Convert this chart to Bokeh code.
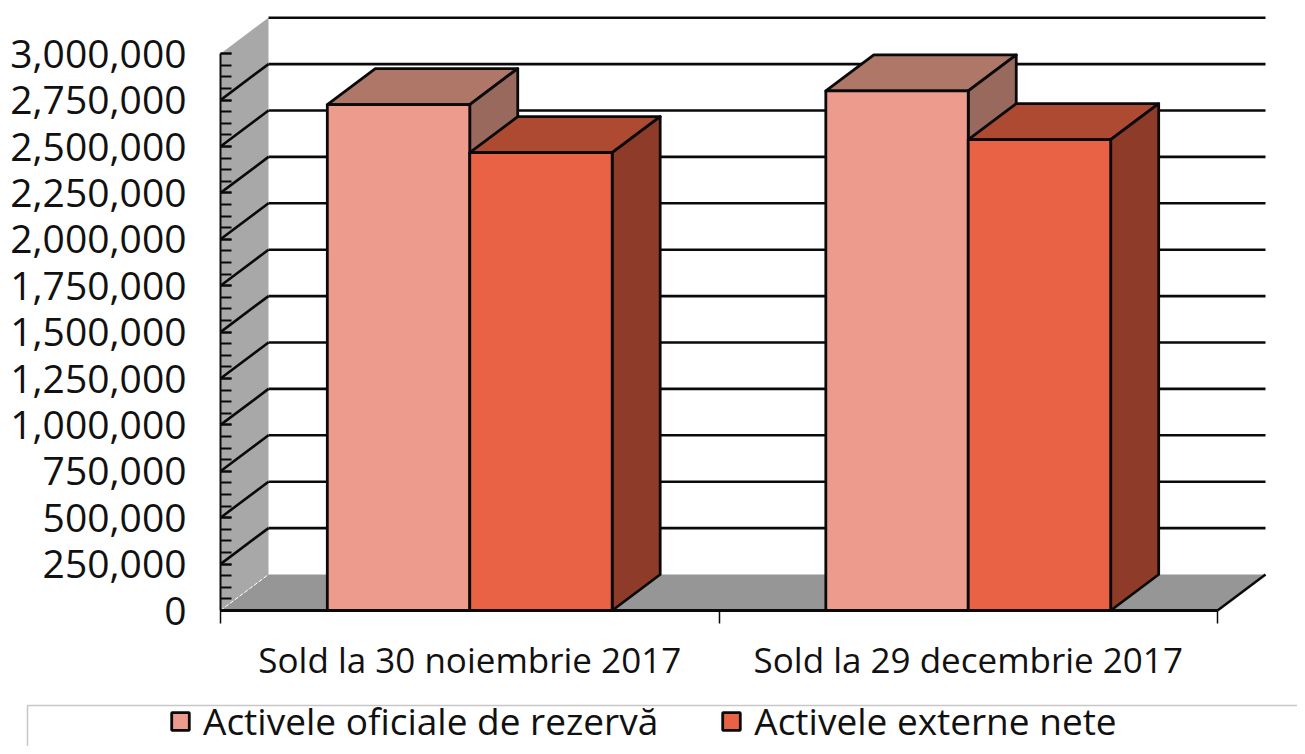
from bokeh.plotting import figure
from bokeh.models import (Range1d, LinearAxis, FixedTicker, NumeralTickFormatter,
                          Legend, LegendItem, BoxAnnotation)
from bokeh.embed import file_html
from bokeh.resources import INLINE

categories = ["Sold la 30 noiembrie 2017", "Sold la 29 decembrie 2017"]
series_names = ["Activele oficiale de rezervă", "Activele externe nete"]
activele_oficiale = [2726000, 2800000]
activele_externe = [2467000, 2537000]
y_ticks = list(range(0, 3000001, 250000))

FONT = "Open Sans"
FRONT = ["#EC9B8D", "#E96245"]
TOP = ["#AE7768", "#AE4A32"]
SIDE = ["#98695C", "#8E3C29"]
WALL = "#A8A8A8"
FLOOR = "#969696"
INK = "#0A0A0A"

PX_X = 498.5          # pixels per category
PX_Y = 46.4 / 250000  # pixels per unit of value
DX = 48 / PX_X
DY = 36 / PX_Y
BAR = 1 / 3.5
W, H = 1297, 746
ymax_cat = 2
YMAX = y_ticks[-1]

p = figure(width=W, height=H, output_backend="svg", toolbar_location=None,
           x_range=Range1d(-220 / PX_X, (W - 220) / PX_X),
           y_range=Range1d(-(H - 610) / PX_Y, 610 / PX_Y),
           min_border=0, outline_line_color=None, x_axis_type=None, y_axis_type=None)
p.grid.visible = False
p.background_fill_color = "white"

# walls and floor
p.patch([0, DX, DX, 0], [0, DY, YMAX + DY, YMAX], fill_color=WALL, line_color=None)
p.patch([0, DX, ymax_cat + DX, ymax_cat], [0, DY, DY, 0], fill_color=FLOOR, line_color=None)
p.line([0, DX], [0, DY], line_color="white", line_width=1, line_dash="4 2")

# gridlines: back wall + side wall
for v in y_ticks[1:]:
    xs = [DX, ymax_cat + DX]
    p.line(xs, [v + DY, v + DY], line_color=INK, line_width=2.6)
    if v < YMAX:
        p.line([0, DX], [v, v + DY], line_color=INK, line_width=2.6)
p.line([ymax_cat, ymax_cat + DX], [0, DY], line_color=INK, line_width=2.6)
p.line([0, ymax_cat], [0, 0], line_color=INK, line_width=3)

# bars
front_renderers = []
for s, vals in enumerate([activele_oficiale, activele_externe]):
    for c, v in enumerate(vals):
        l = c + 0.5 - BAR + s * BAR
        r = l + BAR
        p.patch([l, r, r + DX, l + DX], [v, v, v + DY, v + DY], fill_color=TOP[s],
                line_color=INK, line_width=2.8, line_join="round")
        p.patch([r, r + DX, r + DX, r], [0, DY, v + DY, v], fill_color=SIDE[s],
                line_color=INK, line_width=2.8, line_join="round")
    lefts = [c + 0.5 - BAR + s * BAR for c in range(len(vals))]
    rights = [x + BAR for x in lefts]
    q = p.quad(left=lefts, right=rights, bottom=0, top=vals, fill_color=FRONT[s],
               line_color=INK, line_width=2.8)
    front_renderers.append(q)

# axes
yax = LinearAxis(fixed_location=0, bounds=(0, YMAX),
                 ticker=FixedTicker(ticks=y_ticks, minor_ticks=list(range(0, 3000001, 62500))),
                 formatter=NumeralTickFormatter(format="0,0"))
yax.axis_line_color = INK
yax.axis_line_width = 2
yax.major_tick_in = 11
yax.major_tick_out = 0
yax.minor_tick_in = 11
yax.minor_tick_out = 0
yax.major_tick_line_color = INK
yax.major_tick_line_width = 2
yax.minor_tick_line_color = INK
yax.minor_tick_line_width = 2
yax.major_label_standoff = 34
yax.major_label_text_font = FONT
yax.major_label_text_font_size = "39px"
yax.major_label_text_color = "#111111"
p.add_layout(yax, "left")

xax = LinearAxis(fixed_location=0,
                 ticker=FixedTicker(ticks=[i + 0.5 for i in range(len(categories))],
                                    minor_ticks=list(range(len(categories) + 1))),
                 major_label_overrides={i + 0.5: c for i, c in enumerate(categories)})
xax.axis_line_color = None
xax.major_tick_line_color = None
xax.minor_tick_in = 0
xax.minor_tick_out = 13
xax.minor_tick_line_color = INK
xax.minor_tick_line_width = 1.5
xax.major_label_standoff = 12
xax.major_label_text_font = FONT
xax.major_label_text_font_size = "35px"
xax.major_label_text_color = "#111111"
p.add_layout(xax, "below")

# legend frame and legend
p.add_layout(BoxAnnotation(left=27, right=1400, top=H - 705, bottom=-60,
                           left_units="screen", right_units="screen",
                           top_units="screen", bottom_units="screen",
                           fill_color=None, line_color="#444444", line_width=1.5))
legend = Legend(items=[LegendItem(label=n, renderers=[r]) for n, r in zip(series_names, front_renderers)],
                orientation="horizontal", location=(169, 0),
                border_line_color=None, background_fill_alpha=0,
                glyph_width=22, glyph_height=22, label_standoff=12, spacing=62,
                padding=5, margin=0,
                label_text_font=FONT, label_text_font_size="37px", label_text_color="#111111")
p.add_layout(legend, "center")

open("out.html", "w").write(file_html(p, INLINE))
